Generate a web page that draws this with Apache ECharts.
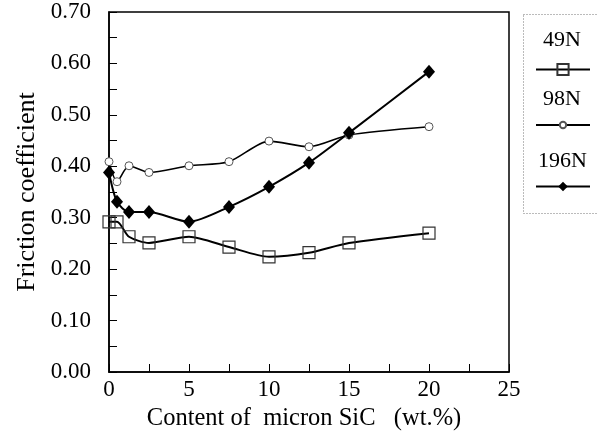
<!DOCTYPE html>
<html>
<head>
<meta charset="utf-8">
<script src="https://cdn.jsdelivr.net/npm/echarts@6/dist/echarts.min.js"></script>
<style>html,body{margin:0;padding:0;background:#fff}#c{width:598px;height:444px}</style>
</head>
<body>
<div id="c"></div>
<script>
var xValues = [0, 0.5, 1.25, 2.5, 5, 7.5, 10, 12.5, 15, 20];
var load49N = [0.292, 0.292, 0.263, 0.251, 0.263, 0.243, 0.224, 0.232, 0.251, 0.270];
var load98N = [0.409, 0.370, 0.401, 0.388, 0.401, 0.409, 0.449, 0.438, 0.461, 0.477];
var load196N = [0.388, 0.331, 0.311, 0.311, 0.292, 0.321, 0.360, 0.407, 0.465, 0.584];
var seriesNames = ['49N', '98N', '196N'];
var xTitle = 'Content of  micron SiC   (wt.%)';
var yTitle = 'Friction coefficient';

var FONT = 'Liberation Serif';
function pairs(vals) { return xValues.map(function (x, i) { return [x, vals[i]]; }); }

var chart = echarts.init(document.getElementById('c'), null, { renderer: 'canvas' });

function legendFor(name, top, shift, h, lh) {
  return {
    data: [name], left: 535, top: top, padding: 0,
    itemWidth: 54, itemHeight: h, selectedMode: false,
    formatter: function (n) { return n + '\n\n'; },
    textStyle: { fontFamily: FONT, fontSize: 22, lineHeight: lh, color: '#000', padding: [0, 0, 0, shift] }
  };
}

var option = {
  animation: false,
  backgroundColor: '#fff',
  grid: { left: 109, right: 89, top: 12, bottom: 72, show: true, borderColor: '#000', borderWidth: 1.5 },
  legend: [
    legendFor(seriesNames[0], 26, -52, 14, 29),
    legendFor(seriesNames[1], 86, -52, 8, 26),
    legendFor(seriesNames[2], 149, -57, 12, 25)
  ],
  graphic: [{
    type: 'rect', left: 521, top: 12,
    shape: { width: 90, height: 199 },
    style: { fill: 'none', stroke: '#777', lineWidth: 1, lineDash: [1, 2] }
  }],
  xAxis: {
    type: 'value', min: 0, max: 25, interval: 5,
    name: xTitle, nameLocation: 'middle', nameGap: 22,
    nameTextStyle: { fontFamily: FONT, fontSize: 24.5, color: '#000', padding: [0, 10, 0, 0] },
    axisLine: { lineStyle: { color: '#000', width: 1.5 } },
    axisTick: { inside: true, length: 8, lineStyle: { color: '#000' } },
    minorTick: { show: true, splitNumber: 2, length: 8, lineStyle: { color: '#000' } },
    axisLabel: { fontFamily: FONT, fontSize: 23, color: '#000', margin: 6 },
    splitLine: { show: false }
  },
  yAxis: {
    type: 'value', min: 0, max: 0.7, interval: 0.1,
    name: yTitle, nameLocation: 'middle', nameGap: 65, nameRotate: 90,
    nameTextStyle: { fontFamily: FONT, fontSize: 26, color: '#000' },
    axisLine: { show: true, lineStyle: { color: '#000', width: 1.5 } },
    axisTick: { show: true, inside: true, length: 8, lineStyle: { color: '#000' } },
    minorTick: { show: true, splitNumber: 2, length: 8, lineStyle: { color: '#000' } },
    axisLabel: { fontFamily: FONT, fontSize: 23, color: '#000', margin: 18,
      formatter: function (v) { return v.toFixed(2); } },
    splitLine: { show: false }
  },
  series: [
    {
      name: seriesNames[0], type: 'line', data: pairs(load49N), smooth: 0.25,
      symbol: 'rect', symbolSize: 12,
      lineStyle: { color: '#000', width: 2 },
      itemStyle: { color: 'rgba(255,255,255,0)', borderColor: '#333', borderWidth: 1.2 },
      emphasis: { disabled: true }
    },
    {
      name: seriesNames[1], type: 'line', data: pairs(load98N), smooth: 0.25,
      symbol: 'circle', symbolSize: 8,
      lineStyle: { color: '#000', width: 1.6 },
      itemStyle: { color: '#fff', borderColor: '#555', borderWidth: 1 },
      emphasis: { disabled: true }
    },
    {
      name: seriesNames[2], type: 'line', data: pairs(load196N), smooth: 0.25,
      symbol: 'diamond', symbolSize: [12, 14],
      lineStyle: { color: '#000', width: 2 },
      itemStyle: { color: '#000', borderColor: '#000', borderWidth: 0 },
      emphasis: { disabled: true }
    }
  ]
};
chart.setOption(option);
</script>
</body>
</html>
